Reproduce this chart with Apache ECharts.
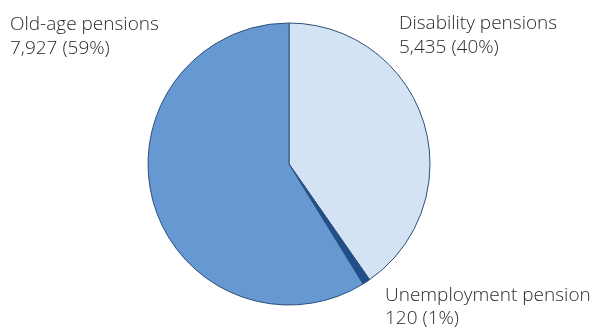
<!DOCTYPE html>
<html>
<head>
<meta charset="utf-8">
<script src="https://cdn.jsdelivr.net/npm/echarts@6/dist/echarts.min.js"></script>
<style>html,body{margin:0;padding:0;background:#fff}#c{width:604px;height:327px}</style>
</head>
<body>
<div id="c"></div>
<script>
var categories = ['Disability pensions', 'Unemployment pension', 'Old-age pensions'];
var values = [5435, 120, 7927];
var valueLabels = ['5,435', '120', '7,927'];
var colors = ['#d4e3f4', '#1f4e8a', '#6699d1'];
var labelPos = [
  {x: 399, y: 12},
  {x: 385, y: 283.5},
  {x: 10, y: 13}
];

var chart = echarts.init(document.getElementById('c'), null, {renderer: 'canvas'});
var data = categories.map(function (c, i) {
  return {name: c, value: values[i], itemStyle: {color: colors[i]}};
});
chart.setOption({
  animation: false,
  series: [{
    type: 'pie',
    center: [289, 164],
    radius: [0, 141],
    startAngle: 90,
    clockwise: true,
    data: data,
    itemStyle: {borderColor: '#2c4f7c', borderWidth: 1},
    label: {
      show: true,
      position: 'outside',
      fontFamily: 'Open Sans',
      fontWeight: 300,
      fontSize: 19,
      lineHeight: 23.5,
      color: '#2a2a2a',
      overflow: 'none',
      width: 300,
      formatter: function (p) {
        return p.name + '\n' + valueLabels[p.dataIndex] + ' (' + Math.round(p.percent) + '%)';
      }
    },
    labelLine: {show: false},
    labelLayout: function (p) {
      var pos = labelPos[p.dataIndex];
      return {x: pos.x, y: pos.y, align: 'left', verticalAlign: 'top', hideOverlap: false, moveOverlap: null};
    },
    emphasis: {disabled: true}
  }]
});
</script>
</body>
</html>
